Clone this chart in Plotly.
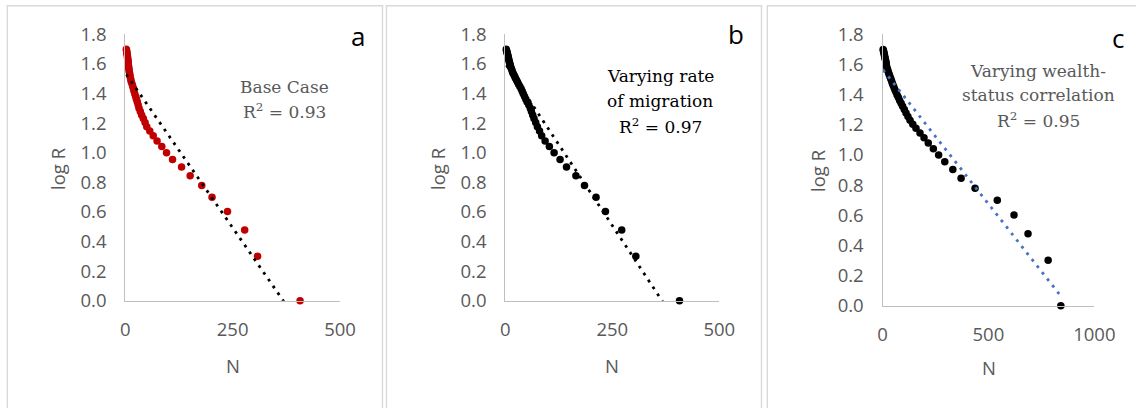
import numpy as np
import plotly.graph_objects as go

W, H = 1136, 408

# ---- data: log R for ranks 1..50 ----
ranks = list(range(1, 51))

n_base = [407, 308, 278, 238, 202, 178, 151, 131, 110, 96,
          85, 74, 65, 57, 50, 46, 42, 38, 35, 32,
          30, 28, 26, 24, 22, 20.5, 19, 17.5, 16, 14,
          13, 12, 11, 10.2, 9.5, 8.8, 8.2, 7.7, 7.3, 6.9,
          6.5, 6.1, 5.7, 5.3, 4.9, 4.4, 3.9, 3.4, 2.9, 2.4]

n_migration = [407, 305, 272, 234, 212, 185, 165, 143, 128, 114,
               103, 93, 85, 80, 75, 71, 67, 64, 61, 58.5,
               55, 51, 48, 45, 42, 39.5, 37, 34, 31, 28.5,
               26, 23.5, 21.5, 19, 17, 15.5, 14, 12.5, 11.5, 10.5,
               9.5, 8.6, 7.8, 7, 6.2, 5.4, 4.6, 3.8, 3, 2.3]

n_wealth = [842, 782, 687, 621, 542, 437, 371, 332, 294, 265,
            240, 216, 196, 177, 158, 143, 130, 120, 111, 103,
            95, 88, 81, 75, 69, 64, 59, 54.5, 50, 46,
            42.5, 39, 35.5, 32, 29, 26, 23.5, 21, 18, 18,
            16.5, 15, 13.5, 12, 10.5, 9, 7.5, 6, 4.5, 3]

log_r = [float(np.log10(r)) for r in ranks]

panel_letters = ["a", "b", "c"]
panel_texts = [["Base Case", "R<sup>2</sup> = 0.93"],
               ["Varying rate", "of migration", "R<sup>2</sup> = 0.97"],
               ["Varying wealth-", "status correlation", "R<sup>2</sup> = 0.95"]]
x_ranges = [[0, 500], [0, 500], [0, 1000]]
x_dticks = [250, 250, 500]
y_tick_vals = [0.0, 0.2, 0.4, 0.6, 0.8, 1.0, 1.2, 1.4, 1.6, 1.8]

marker_colors = ["#C00000", "#000000", "#000000"]
trend_colors = ["#000000", "#000000", "#4472C4"]
text_colors = ["#595959", "#000000", "#595959"]

series = [n_base, n_migration, n_wealth]

# ---- layout geometry (pixels) ----
def px(x):
    return x / W

def py(y):
    return 1 - y / H

x_domains = [[125.3, 340.0], [505.3, 719.3], [882.5, 1094.3]]
y_domains = [[300.7, 34.3], [300.7, 34.3], [305.7, 34.3]]

fig = go.Figure()
axis_font = dict(family="Open Sans", size=18.5, color="#595959")

for i, ns in enumerate(series):
    xa = "x" if i == 0 else f"x{i+1}"
    ya = "y" if i == 0 else f"y{i+1}"
    fig.add_trace(go.Scatter(
        x=ns, y=log_r, mode="markers", xaxis=xa, yaxis=ya,
        marker=dict(color=marker_colors[i], size=7.5, line=dict(width=0)),
        cliponaxis=False, showlegend=False, hoverinfo="x+y"))
    # linear trend line (least squares) over the data x-range
    slope, intercept = np.polyfit(ns, log_r, 1)
    xs = np.array([min(ns), max(ns)])
    fig.add_trace(go.Scatter(
        x=xs, y=intercept + slope * xs, mode="lines", xaxis=xa, yaxis=ya,
        line=dict(color=trend_colors[i], width=2.8, dash="2.8px,5.5px"),
        showlegend=False, hoverinfo="skip"))

layout = dict(
    template="none",
    width=W, height=H, autosize=False,
    margin=dict(l=0, r=0, t=0, b=0, pad=0, autoexpand=False),
    paper_bgcolor="white", plot_bgcolor="white",
    showlegend=False,
)

for i in range(3):
    sx = "" if i == 0 else str(i + 1)
    layout["xaxis" + sx] = dict(
        domain=[px(x_domains[i][0]), px(x_domains[i][1])],
        range=x_ranges[i], dtick=x_dticks[i], tick0=0,
        anchor="y" + sx, showgrid=False, zeroline=False, automargin=False,
        showline=True, linecolor="#BFBFBF", linewidth=1.2,
        ticks="", tickfont=axis_font, ticklabelstandoff=12,
    )
    layout["yaxis" + sx] = dict(
        domain=[py(y_domains[i][0]), py(y_domains[i][1])],
        range=[0, 1.8], tickvals=y_tick_vals, tickformat=".1f",
        anchor="x" + sx, showgrid=False, zeroline=False, automargin=False,
        showline=True, linecolor="#BFBFBF", linewidth=1.2,
        ticks="", tickfont=axis_font, ticklabelstandoff=14,
    )

fig.update_layout(**layout)

# panel frames
frames = [[7.3, 382.5], [386.5, 761.5], [767.3, 1150]]
for x0, x1 in frames:
    fig.add_shape(type="rect", xref="paper", yref="paper",
                  x0=px(x0), x1=px(x1), y0=py(430), y1=py(5.7),
                  line=dict(color="#D9D9D9", width=1.4), fillcolor="rgba(0,0,0,0)", layer="below")

# axis titles
offs = [0, 380, 760]
n_title_y = [365, 365, 367.5]
logr_title_y = [169, 169, 171]
n_title_x = [232.5, 612.3, 988.7]
for i in range(3):
    fig.add_annotation(text="log R", xref="paper", yref="paper",
                       x=px(offs[i] + 57), y=py(logr_title_y[i]), textangle=-90,
                       showarrow=False, xanchor="center", yanchor="middle",
                       font=dict(family="Open Sans", size=18.5, color="#595959"))
    fig.add_annotation(text="N", xref="paper", yref="paper",
                       x=px(n_title_x[i]), y=py(n_title_y[i]),
                       showarrow=False, xanchor="center", yanchor="middle",
                       font=dict(family="Open Sans", size=18.5, color="#595959"))

# panel letters
letter_pos = [(358, 36), (736, 33.5), (1118, 37.5)]
for i, (lx, ly) in enumerate(letter_pos):
    fig.add_annotation(text=panel_letters[i], xref="paper", yref="paper",
                       x=px(lx), y=py(ly), showarrow=False,
                       xanchor="center", yanchor="middle",
                       font=dict(family="Open Sans", size=26, color="#000000"))

# in-panel labels (one annotation per line)
text_centers_x = [284.5, 660, 1038.3]
text_baselines = [[92.7, 116.7], [81.7, 106.7, 131], [76.7, 100.7, 125]]
for i in range(3):
    for line, base in zip(panel_texts[i], text_baselines[i]):
        fig.add_annotation(text=line, xref="paper", yref="paper",
                           x=px(text_centers_x[i]), y=py(base - 5.5),
                           showarrow=False, xanchor="center", yanchor="middle",
                           font=dict(family="DejaVu Serif", size=17, color=text_colors[i]))

fig.write_html("out.html", config={"responsive": False, "displayModeBar": False},
               post_script="document.body.style.margin='0';document.body.style.overflow='hidden';")
